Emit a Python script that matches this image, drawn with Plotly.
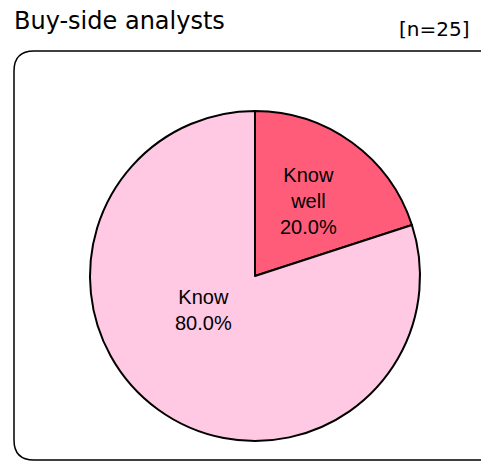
import plotly.graph_objects as go

W, H = 481, 461

labels = ["Know well", "Know"]
shares = [20.0, 80.0]
slice_text = ["Know<br>well<br>20.0%", "Know<br>80.0%"]
colors = ["#FF5C7A", "#FFC8E3"]
# label centres inside each slice (pixels)
label_pos = [(308, 201), (203, 310)]

fig = go.Figure(go.Pie(
    labels=labels,
    values=shares,
    textinfo="none",
    sort=False,
    direction="clockwise",
    rotation=0,
    marker=dict(colors=colors, line=dict(color="black", width=2)),
    domain=dict(x=[90 / W, 420 / W], y=[1 - 441 / H, 1 - 111 / H]),
    showlegend=False,
    hoverinfo="label+percent",
))


def px_x(v):
    return v / W


def px_y(v):
    return 1 - v / H


for txt, (lx, ly) in zip(slice_text, label_pos):
    fig.add_annotation(text=txt, x=px_x(lx), y=px_y(ly), xref="paper", yref="paper",
                       xanchor="center", yanchor="middle",
                       showarrow=False, align="center",
                       font=dict(family="Liberation Sans, Arial", size=20, color="black"))

# rounded frame around the pie
x0, x1, y0, y1, r = 14, 500, 51, 460, 20
path = (
    f"M {px_x(x0 + r)} {px_y(y0)} L {px_x(x1 - r)} {px_y(y0)} "
    f"Q {px_x(x1)} {px_y(y0)} {px_x(x1)} {px_y(y0 + r)} "
    f"L {px_x(x1)} {px_y(y1 - r)} Q {px_x(x1)} {px_y(y1)} {px_x(x1 - r)} {px_y(y1)} "
    f"L {px_x(x0 + r)} {px_y(y1)} Q {px_x(x0)} {px_y(y1)} {px_x(x0)} {px_y(y1 - r)} "
    f"L {px_x(x0)} {px_y(y0 + r)} Q {px_x(x0)} {px_y(y0)} {px_x(x0 + r)} {px_y(y0)} Z"
)
fig.add_shape(type="path", path=path, xref="paper", yref="paper",
              line=dict(color="black", width=1.5), layer="below")

fig.add_annotation(text="Buy-side analysts", x=px_x(12), y=px_y(21),
                   xref="paper", yref="paper", xanchor="left", yanchor="middle",
                   showarrow=False,
                   font=dict(family="DejaVu Sans", size=24, color="black"))
fig.add_annotation(text="[n=25]", x=px_x(472), y=px_y(29),
                   xref="paper", yref="paper", xanchor="right", yanchor="middle",
                   showarrow=False,
                   font=dict(family="DejaVu Sans", size=20, color="black"))

fig.update_layout(
    width=W, height=H,
    margin=dict(l=0, r=0, t=0, b=0),
    paper_bgcolor="white",
    plot_bgcolor="white",
)

fig.write_html("out.html", config={"displayModeBar": False},
               post_script="document.body.style.margin='0';")
